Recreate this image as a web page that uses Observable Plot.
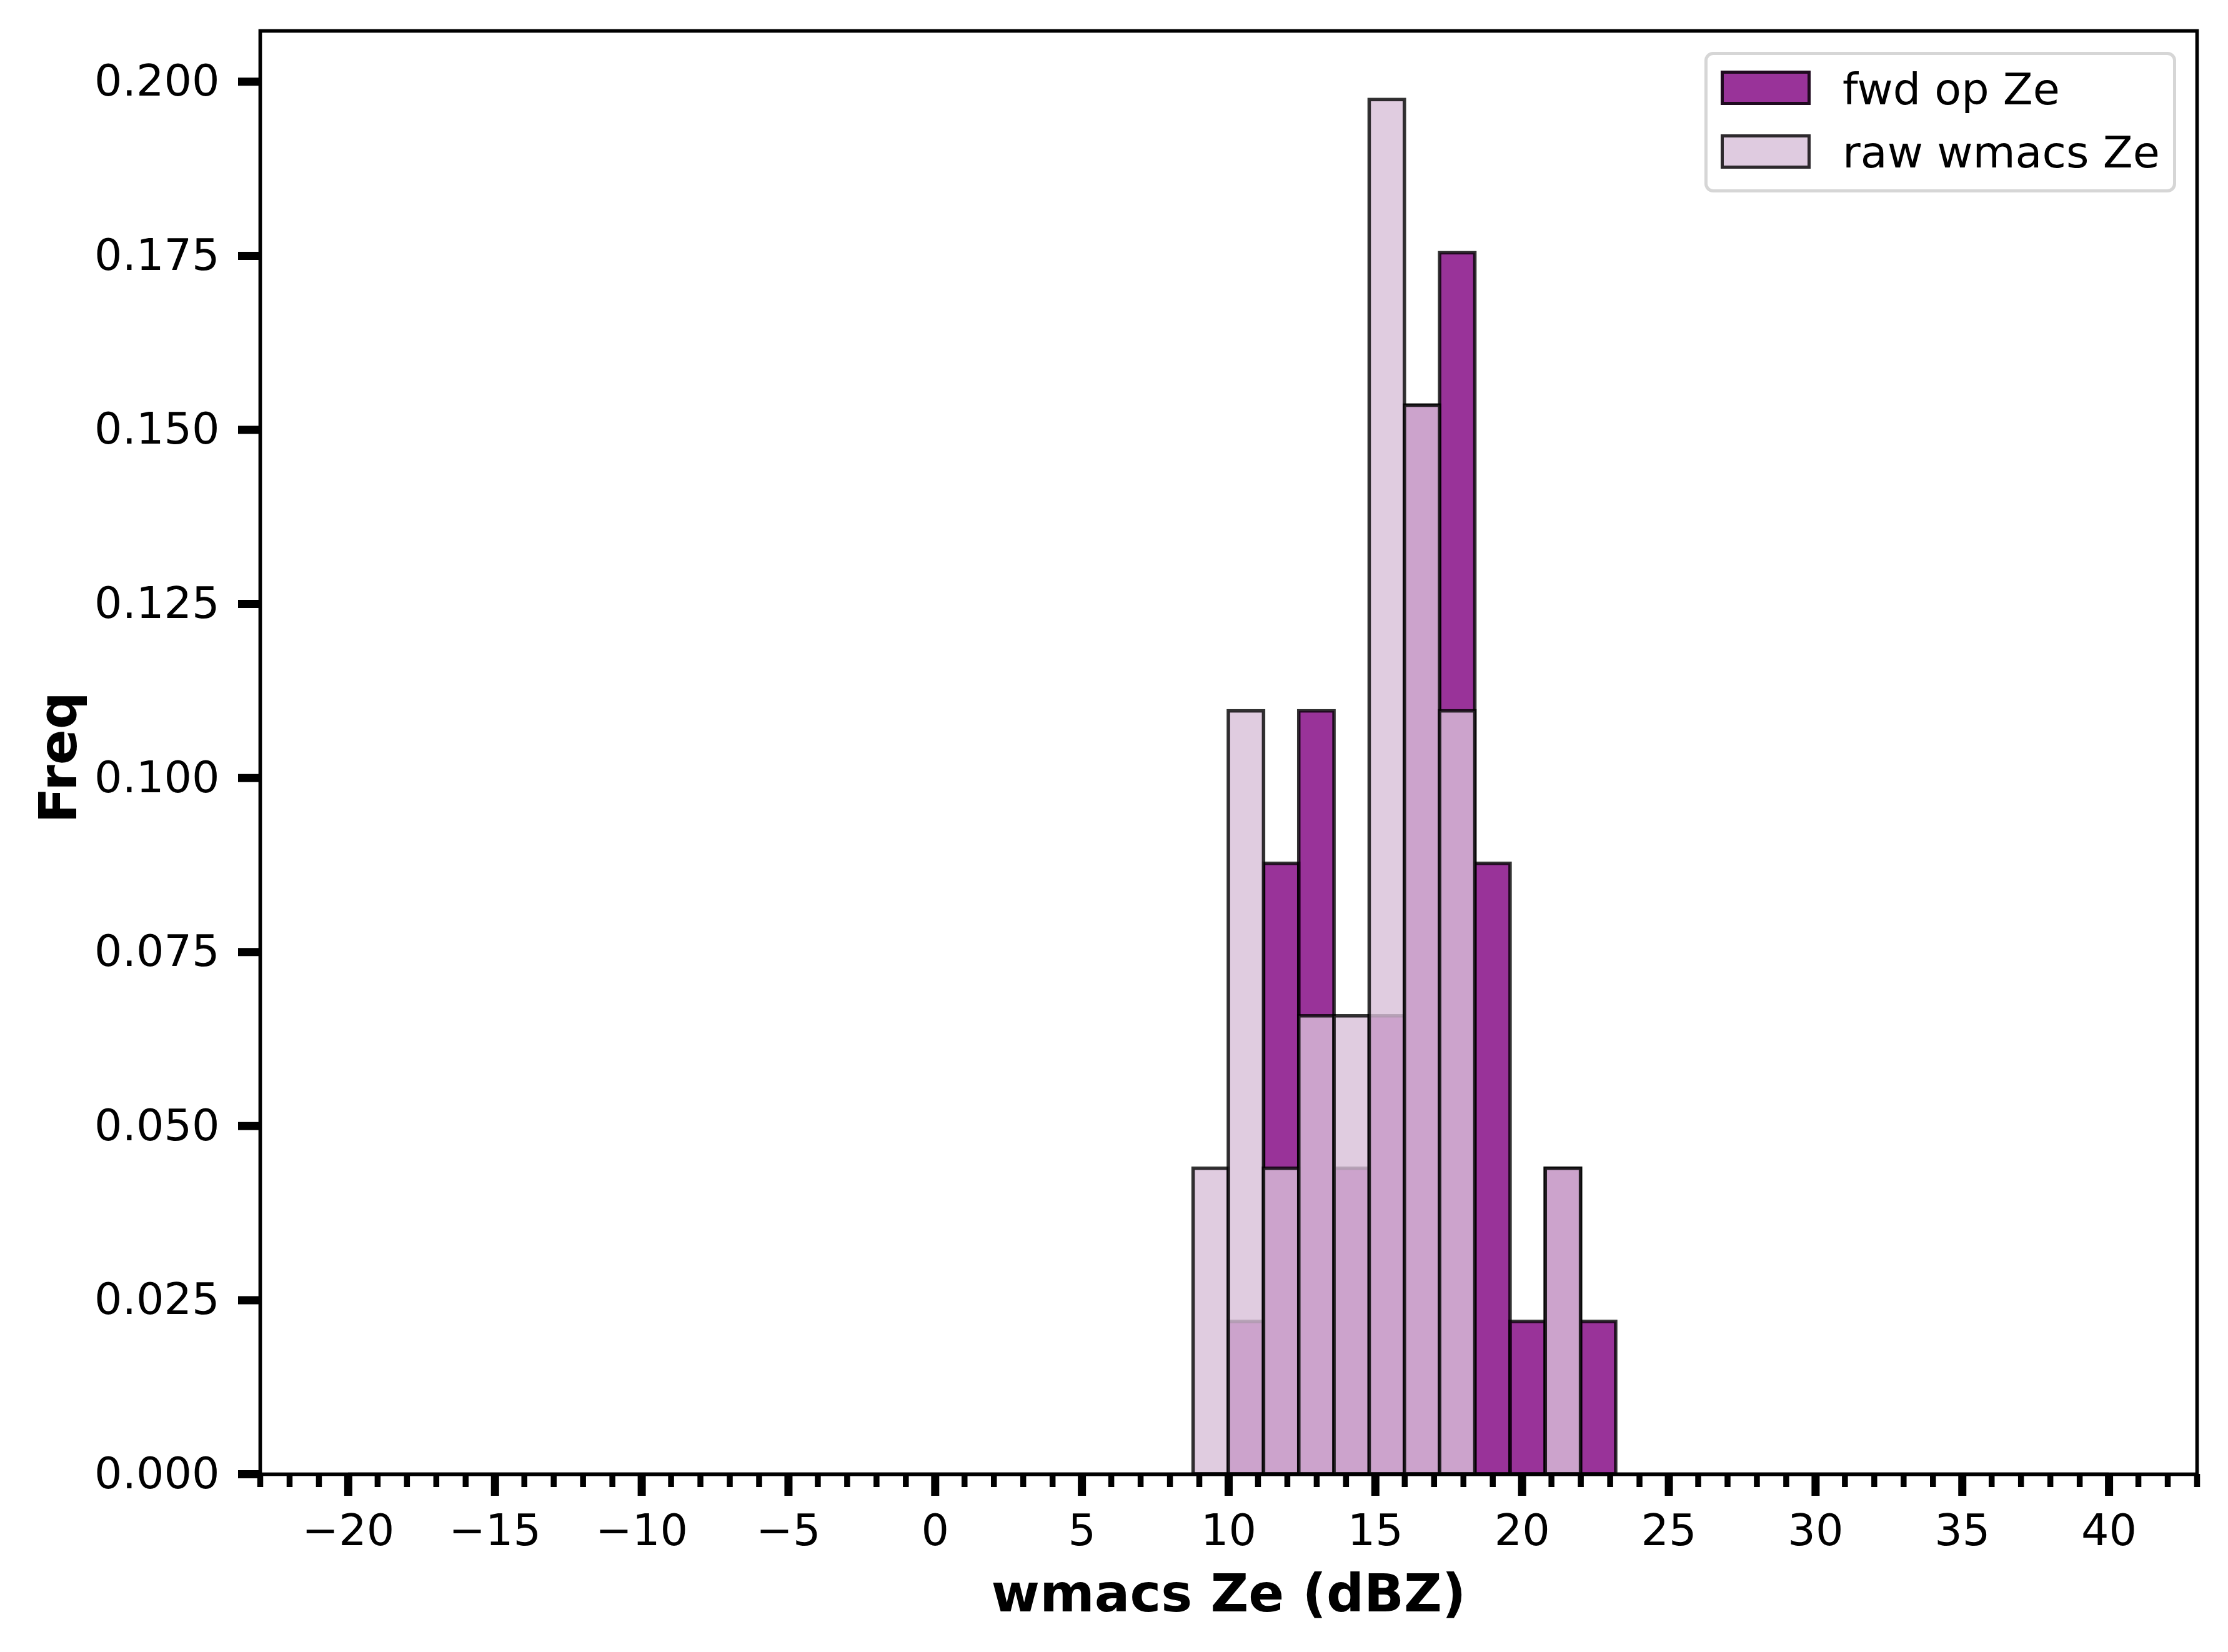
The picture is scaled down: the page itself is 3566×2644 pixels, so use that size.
<!DOCTYPE html>
<html>
<head>
<meta charset="utf-8">
<script src="https://cdn.jsdelivr.net/npm/d3@7"></script>
<script src="https://cdn.jsdelivr.net/npm/@observablehq/plot@0.6"></script>
<style>
  html, body { margin: 0; padding: 0; background: #fff; }
  #wrap { position: relative; width: 3566px; height: 2644px; font-family: "DejaVu Sans", sans-serif; color: #000; }
  .lg-box { position: absolute; box-sizing: border-box; border: 5px solid #d6d6d6; border-radius: 14px; background: rgba(255,255,255,0.8); }
  .lg-patch { position: absolute; box-sizing: border-box; border: 5px solid rgba(0,0,0,0.8); }
  .lg-text { position: absolute; font-size: 70px; line-height: 70px; white-space: nowrap; font-family: "DejaVu Sans", sans-serif; }
</style>
</head>
<body>
<div id="wrap"></div>
<script>
// Histogram data (density, bin width 1.2, bins over -20..40)
const histRange = [-20, 40];
const binWidth = 1.2;
const binStart = [8.8, 10.0, 11.2, 12.4, 13.6, 14.8, 16.0, 17.2, 18.4, 19.6, 20.8, 22.0];
const fwdFreq  = [0, 0.0219, 0.0877, 0.1096, 0.0439, 0.0658, 0.1535, 0.1754, 0.0877, 0.0219, 0.0439, 0.0219];
const rawFreq  = [0.0439, 0.1096, 0.0439, 0.0658, 0.0658, 0.1974, 0.1535, 0.1096, 0, 0, 0.0439, 0];
const seriesNames = ["fwd op Ze", "raw wmacs Ze"];
const yTicks = [0, 0.025, 0.05, 0.075, 0.1, 0.125, 0.15, 0.175, 0.2];
const xMajorTicks = [-20, -15, -10, -5, 0, 5, 10, 15, 20, 25, 30, 35, 40];
const xMinorTicks = d3.range(-23, 44, 1);
const xLabel = "wmacs Ze (dBZ)";
const yLabel = "Freq";

const fwdData = binStart.map((b, i) => ({x1: b, x2: b + binWidth, y: fwdFreq[i]})).filter(d => d.y > 0);
const rawData = binStart.map((b, i) => ({x1: b, x2: b + binWidth, y: rawFreq[i]})).filter(d => d.y > 0);

const W = 3566, H = 2644;
const ML = 416, MR = 50, MT = 49, MB = 285;
const edge = {stroke: "black", strokeOpacity: 0.8, strokeWidth: 5.5};

const chart = Plot.plot({
  width: W,
  height: H,
  marginLeft: ML,
  marginRight: MR,
  marginTop: MT,
  marginBottom: MB,
  style: {fontFamily: "DejaVu Sans, sans-serif", color: "#000", background: "#fff", overflow: "visible"},
  x: {domain: [-23, 43]},
  y: {domain: [0, 0.2073]},
  marks: [
    Plot.rectY(fwdData, {x1: "x1", x2: "x2", y: "y", fill: "purple", fillOpacity: 0.8, ...edge}),
    Plot.rectY(rawData, {x1: "x1", x2: "x2", y: "y", fill: "thistle", fillOpacity: 0.8, ...edge}),
    Plot.ruleY([0], {x1: histRange[0], x2: histRange[1], ...edge}),
    Plot.frame({stroke: "black", strokeWidth: 5.7}),
    Plot.axisX({ticks: xMinorTicks, tickSize: 21, strokeWidth: 9.5, text: null, label: null}),
    Plot.axisX({ticks: xMajorTicks, tickSize: 35, strokeWidth: 13, tickPadding: 29, fontSize: 70,
      tickFormat: d => d < 0 ? "\u2212" + Math.abs(d) : String(d), label: null}),
    Plot.axisY({ticks: yTicks, tickSize: 35, strokeWidth: 13, tickPadding: 30, fontSize: 70,
      tickFormat: d3.format(".3f"), label: null}),
    Plot.text([xLabel], {frameAnchor: "bottom", lineAnchor: "bottom", dy: 219, fontSize: 84, fontWeight: "bold"}),
    Plot.text([yLabel], {frameAnchor: "left", lineAnchor: "bottom", textAnchor: "middle", rotate: -90, dx: -295, dy: 8, fontSize: 84, fontWeight: "bold"})
  ]
});

const wrap = document.getElementById("wrap");
wrap.appendChild(chart);

// Legend (upper right, inside the axes)
const legendColors = ["#993399", "#dfcbe0"];
const box = document.createElement("div");
box.className = "lg-box";
Object.assign(box.style, {left: "2728px", top: "83px", width: "755px", height: "225px"});
wrap.appendChild(box);
seriesNames.forEach((name, i) => {
  const p = document.createElement("div");
  p.className = "lg-patch";
  Object.assign(p.style, {left: "2754px", top: (113 + i * 102) + "px", width: "144px", height: "55px", background: legendColors[i]});
  wrap.appendChild(p);
  const t = document.createElement("div");
  t.className = "lg-text";
  t.textContent = name;
  Object.assign(t.style, {left: "2949px", top: (108 + i * 101) + "px"});
  wrap.appendChild(t);
});
</script>
</body>
</html>
